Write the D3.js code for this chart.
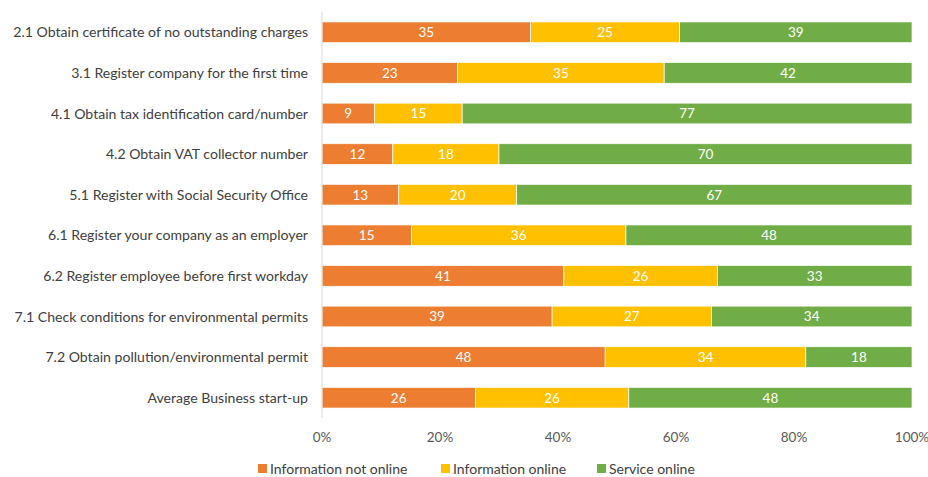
<!DOCTYPE html>
<html lang="en">
<head>
<meta charset="UTF-8">
<title>Online availability of business start-up procedures</title>
<script src="https://d3js.org/d3.v7.min.js"></script>
<style>
  body { margin: 0; background: #fff; }
  svg text { font-family: Lato, "Open Sans", sans-serif; }
  .cat-label { font-size: 14.1px; fill: #404040; }
  .tick-label { font-size: 13.5px; fill: #595959; }
  .bar-label { font-size: 13.5px; fill: #fff; }
  .legend-label { font-size: 14px; fill: #404040; }
</style>
</head>
<body>
<div id="chart"></div>
<script>
// procedures (top to bottom)
const categories = [
  "2.1 Obtain certificate of no outstanding charges",
  "3.1 Register company for the first time",
  "4.1 Obtain tax identification card/number",
  "4.2 Obtain VAT collector number",
  "5.1 Register with Social Security Office",
  "6.1 Register your company as an employer",
  "6.2 Register employee before first workday",
  "7.1 Check conditions for environmental permits",
  "7.2 Obtain pollution/environmental permit",
  "Average Business start-up"
];
const seriesNames = ["Information not online", "Information online", "Service online"];
const infoNotOnline = [35, 23, 9, 12, 13, 15, 41, 39, 48, 26];
const infoOnline    = [25, 35, 15, 18, 20, 36, 26, 27, 34, 26];
const serviceOnline = [39, 42, 77, 70, 67, 48, 33, 34, 18, 48];
const colors = ["#ED7D31", "#FFC000", "#70AD47"];
const xTicks = [0, 0.2, 0.4, 0.6, 0.8, 1];

const width = 928, height = 477;
const margin = { top: 12, right: 16, bottom: 59, left: 322 };
const innerW = width - margin.left - margin.right;
const innerH = height - margin.top - margin.bottom;

const rows = categories.map((c, i) => ({
  cat: c,
  [seriesNames[0]]: infoNotOnline[i],
  [seriesNames[1]]: infoOnline[i],
  [seriesNames[2]]: serviceOnline[i]
}));

const stacked = d3.stack()
  .keys(seriesNames)
  .offset(d3.stackOffsetExpand)(rows);

const svg = d3.select("#chart").append("svg")
  .attr("width", width)
  .attr("height", height)
  .style("display", "block");

const g = svg.append("g").attr("transform", `translate(${margin.left},${margin.top})`);

const x = d3.scaleLinear().domain([0, 1]).range([0, innerW]);
const y = d3.scaleBand().domain(categories).range([0, innerH]).paddingInner(0.49).paddingOuter(0.245);

const color = d3.scaleOrdinal().domain(seriesNames).range(colors);

// bars
const layer = g.selectAll(".layer")
  .data(stacked)
  .enter().append("g")
  .attr("class", "layer")
  .attr("fill", d => color(d.key));

layer.selectAll("rect")
  .data(d => d.map(v => ({ key: d.key, v })))
  .enter().append("rect")
  .attr("x", d => x(d.v[0]))
  .attr("y", d => y(d.v.data.cat))
  .attr("width", d => x(d.v[1]) - x(d.v[0]))
  .attr("height", y.bandwidth())
  .attr("stroke", "#fff")
  .attr("stroke-width", 0.7);

// value labels
layer.selectAll("text")
  .data(d => d.map(v => ({ key: d.key, v })))
  .enter().append("text")
  .attr("class", "bar-label")
  .attr("x", d => (x(d.v[0]) + x(d.v[1])) / 2)
  .attr("y", d => y(d.v.data.cat) + y.bandwidth() / 2)
  .attr("dy", "0.36em")
  .attr("text-anchor", "middle")
  .text(d => d.v.data[d.key]);

// vertical axis line
g.append("line")
  .attr("x1", 0).attr("x2", 0)
  .attr("y1", 0).attr("y2", innerH)
  .attr("stroke", "#D9D9D9")
  .attr("stroke-width", 1);

// category labels
g.selectAll(".cat-label")
  .data(categories)
  .enter().append("text")
  .attr("class", "cat-label")
  .attr("x", -14)
  .attr("y", d => y(d) + y.bandwidth() / 2)
  .attr("dy", "0.36em")
  .attr("text-anchor", "end")
  .text(d => d);

// x tick labels
g.selectAll(".tick-label")
  .data(xTicks)
  .enter().append("text")
  .attr("class", "tick-label")
  .attr("x", d => x(d))
  .attr("y", innerH + 24)
  .attr("text-anchor", "middle")
  .text(d => d3.format(".0%")(d));

// legend
const legendX = [258, 441, 597];
const legend = svg.selectAll(".legend")
  .data(seriesNames)
  .enter().append("g")
  .attr("transform", (d, i) => `translate(${legendX[i]},${height - 8})`);

legend.append("rect")
  .attr("width", 9).attr("height", 9)
  .attr("y", -5)
  .attr("fill", d => color(d));

legend.append("text")
  .attr("class", "legend-label")
  .attr("x", 12)
  .attr("y", 0)
  .attr("dy", "0.36em")
  .text(d => d);
</script>
</body>
</html>
